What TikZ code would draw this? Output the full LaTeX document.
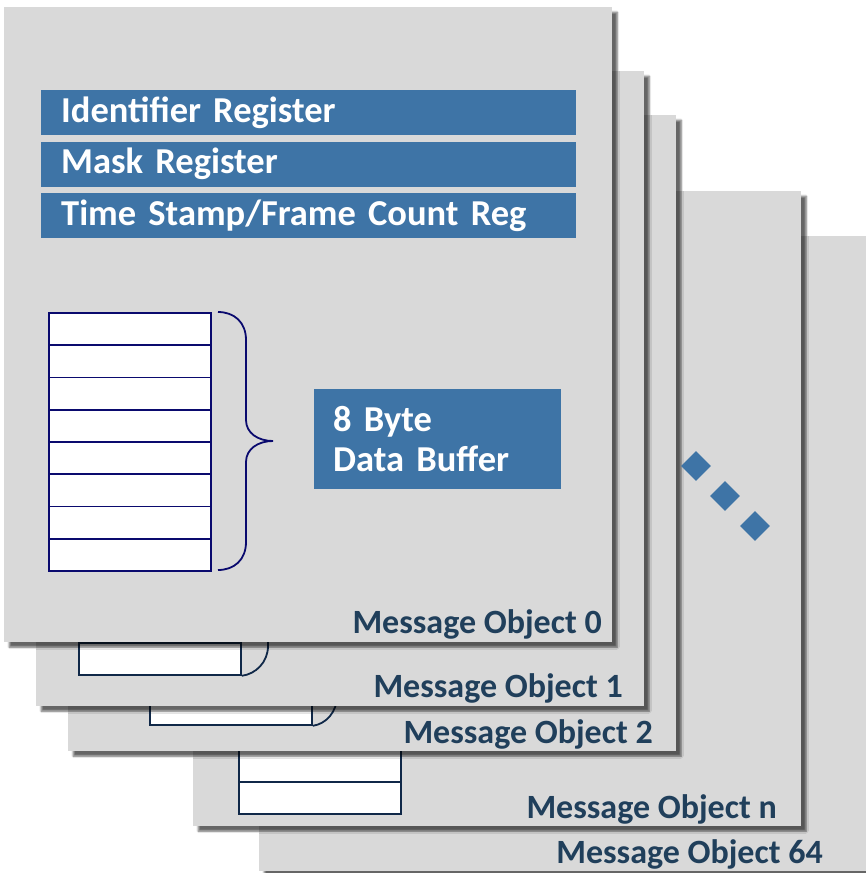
\documentclass[tikz,border=0pt]{standalone}
\usepackage{fontspec}
\setmainfont{Carlito}
\usetikzlibrary{positioning, shadows.blur}
\definecolor{sheetgrey}{HTML}{D9D9D9}
\definecolor{regblue}{RGB}{62,116,166}
\definecolor{labelblue}{HTML}{203F5B}
\definecolor{bufline}{HTML}{0A0A6E}
\definecolor{hidline}{HTML}{102848}
\tikzset{
    x=1pt, y=-1pt, % one unit is one pixel of the original, y runs downwards
    sheet/.style={fill=sheetgrey, minimum width=608pt, minimum height=635pt, anchor=north west, inner sep=0pt,
        blur shadow={shadow xshift=5pt, shadow yshift=-5pt, shadow blur steps=6, shadow opacity=60}}, % one message object
    mlabel/.style={text=labelblue, font=\fontsize{34}{38}\selectfont\bfseries, anchor=base east, inner sep=0pt}, % name of a message object
    }

\begin{document}
\begin{tikzpicture}[regbar/.style={fill=regblue, text=white, font=\fontsize{36.5}{40}\selectfont\bfseries, minimum width=535pt, minimum height=45pt, text width=495pt, align=left, inner xsep=20pt, inner ysep=0pt},
    byterow/.style={draw=bufline, line width=1.8pt, fill=white, minimum width=162pt, minimum height=32.25pt, anchor=north west, inner sep=0pt},
    hidrow/.style={byterow, draw=hidline},
    dot/.style={fill=regblue, minimum size=21pt, inner sep=0pt, rotate=45}]
\useasboundingbox (0,0) rectangle (865,873);

% message object 64
\node[sheet] (mo64) at (259,236) {};
\node[mlabel] (lab64) at (823,863) {Message Object 64};

% message object n
\node[sheet] (mon) at (193,191) {};
\foreach \i in {1,...,8}
    \node[hidrow] (nbyte\i) at (238,{555+32.25*(\i-1)}) {};
\node[mlabel] (labn) at (777,818) {Message Object n};

% message object 2
\node[sheet, minimum height=636pt] (mo2) at (68,115) {};
\foreach \i in {1,...,8}
    \node[hidrow] (tbyte\i) at (149,{466+32.25*(\i-1)}) {};
\draw[hidline, line width=1.8pt] (337,600) -- (337,696) .. controls (337,712) and (326,724) .. (tbyte8.south east);
\node[mlabel] (lab2) at (653,743) {Message Object 2};

% message object 1
\node[sheet] (mo1) at (36,71) {};
\foreach \i in {1,...,8}
    \node[hidrow] (obyte\i) at (78,{416+32.25*(\i-1)}) {};
\draw[hidline, line width=1.8pt] (268,560) -- (268,646) .. controls (268,662) and (256,674) .. (obyte8.south east);
\node[mlabel] (lab1) at (623,697) {Message Object 1};

% message object 0
\node[sheet] (mo0) at (4,7) {};
\node[regbar, anchor=north west] (idreg) at (41,90) {Identifier Register};
\node[regbar, below=6pt of idreg] (maskreg) {Mask Register};
\node[regbar, below=6pt of maskreg] (tsreg) {Time Stamp/Frame Count Reg};
\foreach \i in {1,...,8}
    \node[byterow] (byte\i) at (48,{312+32.25*(\i-1)}) {};
\draw[bufline, line width=1.8pt] (218,312) .. controls (234,312) and (246,322) .. (246,340) -- (246,420)
    .. controls (246,433) and (258,441) .. (273,441) .. controls (258,441) and (246,449) .. (246,462) -- (246,542)
    .. controls (246,560) and (234,570) .. (218,570);
\node[regbar, minimum width=247pt, minimum height=100pt, text width=209pt, inner xsep=19pt, anchor=north west] (databuf) at (314,389) {8 Byte\\Data Buffer};
\node[mlabel] (lab0) at (602,633) {Message Object 0};

% dots between object 2 and object n
\node[dot] (dot1) at (696,466) {};
\node[dot] (dot2) at (725,496) {};
\node[dot] (dot3) at (755,526) {};

\end{tikzpicture}
\end{document}
